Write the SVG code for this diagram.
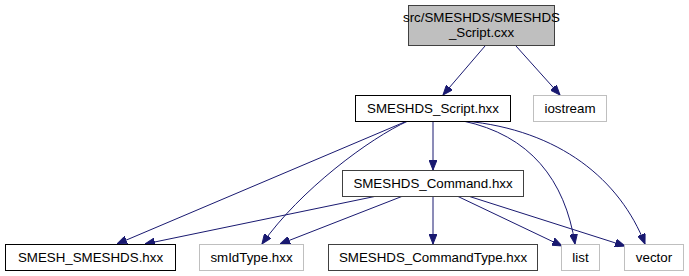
<svg xmlns="http://www.w3.org/2000/svg" width="689" height="276" viewBox="0 0 689 276">
<style>
  .box { fill: #ffffff; stroke: #000000; stroke-width: 1; }
  .dark { stroke: #404040; }
  .ext { stroke: #bfbfbf; }
  .root { fill: #bfbfbf; stroke: #404040; stroke-width: 1; }
  text { font-family: "Liberation Sans", Arial, sans-serif; font-size: 13.33px; fill: #000000; text-anchor: middle; }
  .edge { fill: none; stroke: #191970; stroke-width: 1; marker-end: url(#arrow); }
</style>
<defs>
  <marker id="arrow" markerUnits="userSpaceOnUse" markerWidth="10" markerHeight="8" viewBox="0 0 10 8" refX="10" refY="4" orient="auto">
    <path d="M0,0 L10,4 L0,8 Z" fill="#191970" stroke="#191970" stroke-width="1"/>
  </marker>
</defs>
<rect width="689" height="276" fill="#ffffff"/>
<g id="connectors">
  <path class="edge" d="M485,46 L443,95"/>
  <path class="edge" d="M516,46 L560,95"/>
  <path class="edge" d="M433,121 L433,170"/>
  <path class="edge" d="M407,121 L117,244"/>
  <path class="edge" d="M408,121 C370,138 300,190 262,244"/>
  <path class="edge" d="M463,121 C530,135 565,180 575,244"/>
  <path class="edge" d="M465,121 C560,130 620,180 645,244"/>
  <path class="edge" d="M377,196 L145,244"/>
  <path class="edge" d="M403,196 L280,244"/>
  <path class="edge" d="M433,196 L433,244"/>
  <path class="edge" d="M457,196 L562,246"/>
  <path class="edge" d="M468,196 L625,246"/>
</g>
<g id="node-root">
  <rect class="root" x="408.5" y="5.5" width="146" height="40"/>
  <text x="481.5" y="22">src/SMESHDS/SMESHDS</text>
  <text x="481.5" y="37">_Script.cxx</text>
</g>
<g id="node-script">
  <rect class="box" x="355.5" y="95.5" width="155" height="26"/>
  <text x="433" y="113">SMESHDS_Script.hxx</text>
</g>
<g id="node-iostream">
  <rect class="box ext" x="533.5" y="95.5" width="73" height="26"/>
  <text x="570" y="113">iostream</text>
</g>
<g id="node-command">
  <rect class="box dark" x="342.5" y="170.5" width="181" height="26"/>
  <text x="433" y="188">SMESHDS_Command.hxx</text>
</g>
<g id="node-smesh-smeshds">
  <rect class="box" x="5.5" y="244.5" width="170" height="26"/>
  <text x="90.5" y="262">SMESH_SMESHDS.hxx</text>
</g>
<g id="node-smidtype">
  <rect class="box ext" x="199.5" y="244.5" width="104" height="26"/>
  <text x="251.5" y="262">smIdType.hxx</text>
</g>
<g id="node-commandtype">
  <rect class="box dark" x="328.5" y="244.5" width="209" height="26"/>
  <text x="433" y="262">SMESHDS_CommandType.hxx</text>
</g>
<g id="node-list">
  <rect class="box ext" x="561.5" y="244.5" width="38" height="26"/>
  <text x="580.5" y="262">list</text>
</g>
<g id="node-vector">
  <rect class="box ext" x="624.5" y="244.5" width="59" height="26"/>
  <text x="654" y="262">vector</text>
</g>
</svg>
